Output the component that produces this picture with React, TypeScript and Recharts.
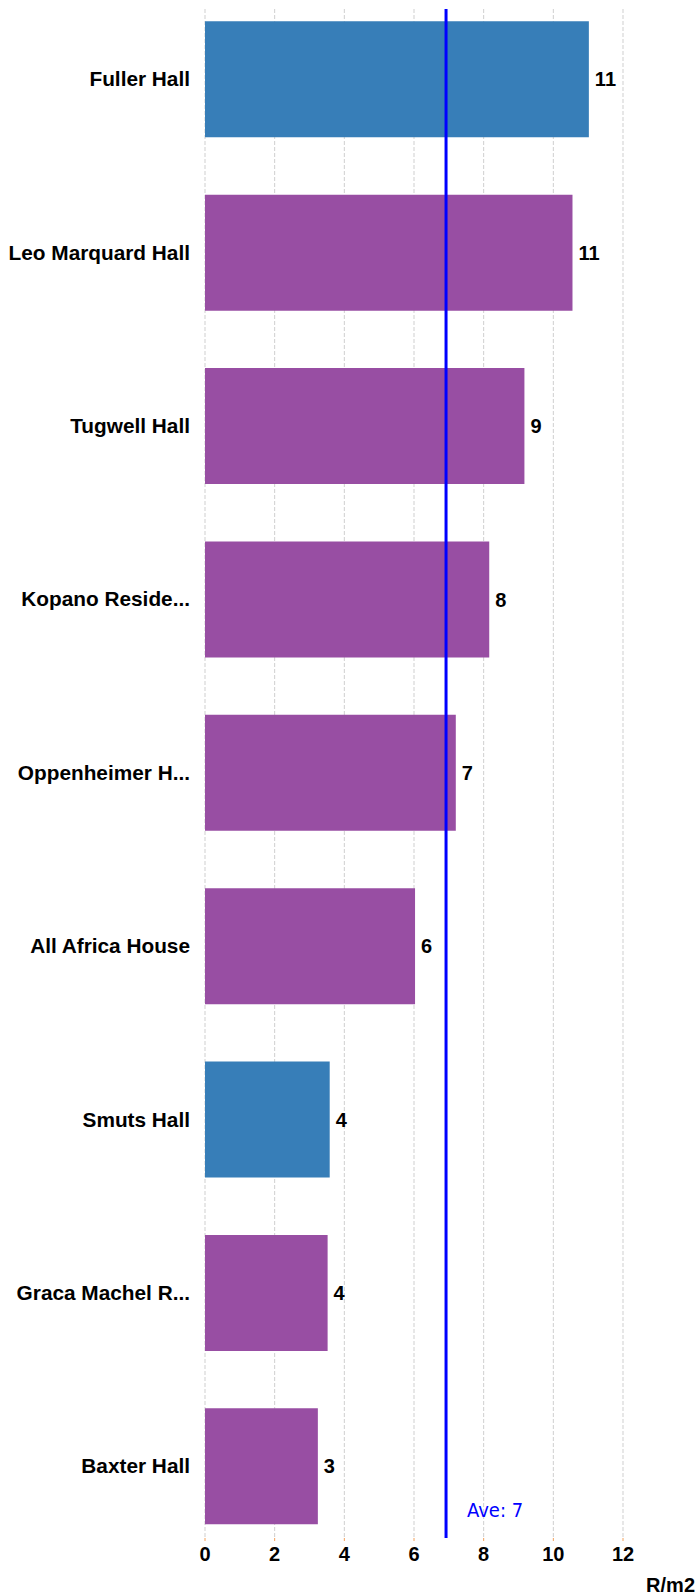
import { Bar, BarChart, CartesianGrid, Cell, LabelList, ReferenceLine, XAxis, YAxis } from 'recharts'

const halls = [
  'Fuller Hall',
  'Leo Marquard Hall',
  'Tugwell Hall',
  'Kopano Reside...',
  'Oppenheimer H...',
  'All Africa House',
  'Smuts Hall',
  'Graca Machel R...',
  'Baxter Hall',
]
const costPerM2 = [11.02, 10.55, 9.17, 8.16, 7.2, 6.03, 3.58, 3.52, 3.24]
const highlighted = ['Fuller Hall', 'Smuts Hall']
const average = 6.92
const xTicks = [0, 2, 4, 6, 8, 10, 12]

const font = '"Liberation Sans", Arial, sans-serif'

const data = halls.map((name, i) => ({ name, value: costPerM2[i] }))

function AveLabel(props: any) {
  const { viewBox } = props
  return (
    <text
      x={viewBox.x + 21}
      y={viewBox.y + viewBox.height - 21}
      fill="#0000FF"
      fontSize={20}
      fontFamily='"DejaVu Sans Condensed", "DejaVu Sans", sans-serif'
    >
      {`Ave: ${Math.round(average)}`}
    </text>
  )
}

export default function App() {
  return (
    <div style={{ position: 'absolute', left: 0, top: 0, width: 699, height: 1595 }}>
      <BarChart
        width={699}
        height={1595}
        data={data}
        layout="vertical"
        margin={{ top: 9, right: 76, bottom: 0, left: 0 }}
      >
        <CartesianGrid vertical horizontal={false} stroke="#cfcfcf" strokeDasharray="4 2" />
        <XAxis
          type="number"
          domain={[0, 12]}
          ticks={xTicks}
          height={57}
          axisLine={false}
          tickSize={3}
          tickMargin={6}
          tickLine={{ stroke: '#F5A25D' }}
          tick={{ fontSize: 20, fontWeight: 'bold', fill: '#000', fontFamily: font }}
          label={{
            value: 'R/m2',
            position: 'insideBottomRight',
            offset: 0,
            dx: 72,
            dy: -3,
            style: { fontSize: 20, fontWeight: 'bold', fill: '#000', fontFamily: font },
          }}
        />
        <YAxis
          type="category"
          dataKey="name"
          width={205}
          axisLine={false}
          tickLine={false}
          tickMargin={9}
          padding={{ top: -16.75, bottom: -14.75 }}
          tick={{ fontSize: 20.8, fontWeight: 'bold', fill: '#000', fontFamily: font }}
        />
        <Bar dataKey="value" barSize={116} isAnimationActive={false}>
          {data.map((d) => (
            <Cell key={d.name} fill={highlighted.includes(d.name) ? '#377EB8' : '#984EA3'} />
          ))}
          <LabelList
            dataKey="value"
            position="right"
            offset={6}
            formatter={(v: any) => Math.round(Number(v))}
            style={{ fontSize: 20, fontWeight: 'bold', fill: '#000', fontFamily: font }}
          />
        </Bar>
        <ReferenceLine x={average} stroke="#0000FF" strokeWidth={3} label={<AveLabel />} />
      </BarChart>
    </div>
  )
}
